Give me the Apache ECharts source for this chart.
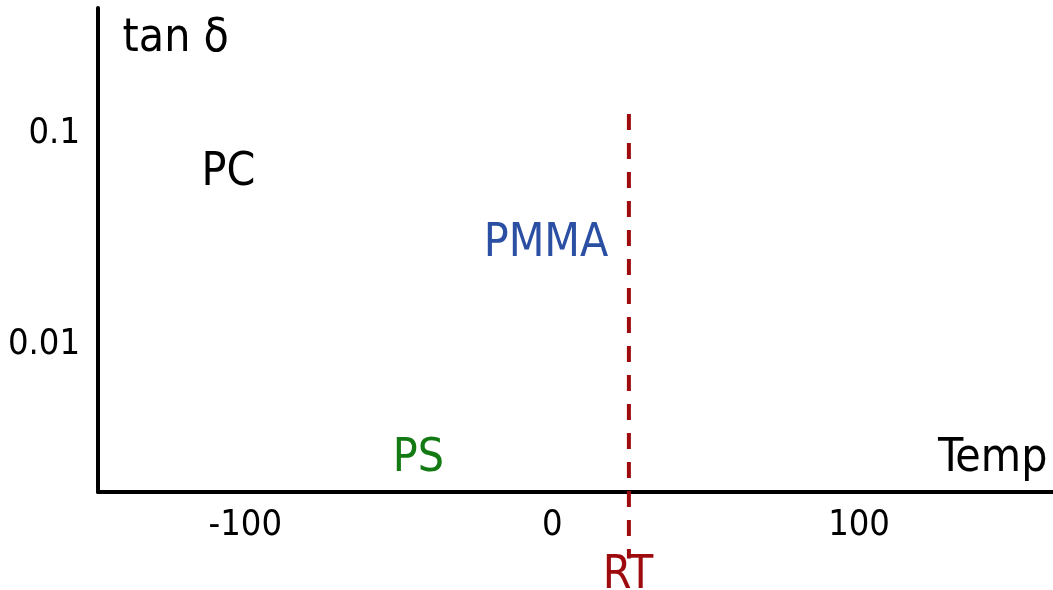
<!DOCTYPE html>
<html>
<head>
<meta charset="utf-8">
<script src="https://cdn.jsdelivr.net/npm/echarts@6/dist/echarts.min.js"></script>
<style>
    html, body { margin: 0; padding: 0; background: #fff; }
    #chart { width: 1053px; height: 590px; }
</style>
</head>
<body>
<div id="chart"></div>
<script>
// 坐标轴刻度
const xTickLabels = [-100, 0, 100]
const yTickLabels = [0.1, 0.01]
const tempRange = [-148, 163.2]
const tanRange = [0.00202, 0.392]

// 室温虚线
const rtTemp = 25
const rtLine = [0.1236, 0.00098]

// 文字标注 (温度, tan δ)
const noteText = ['tan δ', 'PC', 'PMMA', 'PS', 'Temp', 'RT']
const noteTemp = [-140, -105.5, -2, -43.6, 125.7, 24.7]
const noteTan = [0.292, 0.0676, 0.0314, 0.00303, 0.00303, 0.000845]

const FONT = '"DejaVu Sans Condensed", "DejaVu Sans", sans-serif'
const noteColor = { PMMA: '#2b4fa3', PS: '#137a13', RT: '#9e0b0f' }
const noteAlign = { 'tan δ': 'left', Temp: 'left' }

const isTick = (list, v) => list.some(t => Math.abs(t - v) < Math.abs(t) * 1e-6 + 1e-9)

let myChart = echarts.init(document.getElementById('chart'))
myChart.setOption({
    animation: false,
    grid: { left: 98, right: 0, top: 8, bottom: 98 },
    xAxis: {
        type: 'value',
        min: tempRange[0],
        max: tempRange[1],
        axisLine: { show: true, onZero: false, lineStyle: { color: '#000', width: 4 } },
        axisTick: { show: false },
        splitLine: { show: false },
        axisLabel: {
            margin: 16,
            fontSize: 36,
            fontFamily: FONT,
            color: '#000',
            showMinLabel: false,
            showMaxLabel: false,
            formatter: v => isTick(xTickLabels, v) ? String(v) : ''
        }
    },
    yAxis: {
        type: 'log',
        logBase: 10,
        min: tanRange[0],
        max: tanRange[1],
        axisLine: { show: true, onZero: false, lineStyle: { color: '#000', width: 4 } },
        axisTick: { show: false },
        splitLine: { show: false },
        axisLabel: {
            margin: 18,
            fontSize: 36,
            fontFamily: FONT,
            color: '#000',
            showMinLabel: false,
            showMaxLabel: false,
            formatter: v => isTick(yTickLabels, v) ? String(yTickLabels.find(t => isTick([t], v))) : ''
        }
    },
    series: [
        {
            type: 'line',
            clip: false,
            silent: true,
            symbol: 'none',
            data: rtLine.map(t => [rtTemp, t]),
            lineStyle: { color: '#9e0b0f', width: 4, type: [16, 13], opacity: 1 },
            z: 1
        },
        {
            type: 'scatter',
            clip: false,
            silent: true,
            symbolSize: 0,
            itemStyle: { opacity: 1 },
            data: noteText.map((name, i) => ({
                name: name,
                value: [noteTemp[i], noteTan[i]],
                label: {
                    align: noteAlign[name] || 'center',
                    color: noteColor[name] || '#000'
                }
            })),
            label: {
                show: true,
                position: 'inside',
                verticalAlign: 'middle',
                offset: [0, 4],
                opacity: 1,
                fontSize: 46,
                fontFamily: FONT,
                formatter: p => p.name
            },
            z: 3
        }
    ]
})
window.addEventListener('resize', function () {
    myChart.resize()
})
</script>
</body>
</html>
